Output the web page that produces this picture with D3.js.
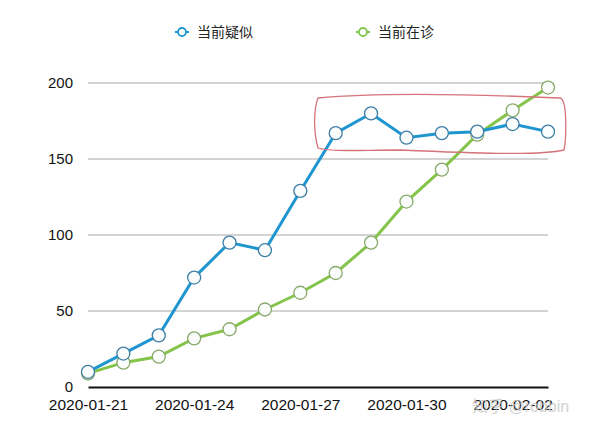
<!DOCTYPE html>
<html>
<head>
<meta charset="utf-8">
<script src="https://cdn.jsdelivr.net/npm/d3@7"></script>
<style>
  body { margin:0; background:#fff; }
  svg text { font-family: "Liberation Sans", Arial, "Noto Sans CJK SC", sans-serif; }
</style>
</head>
<body>
<div id="chart"></div>
<script>
var dates = ["2020-01-21","2020-01-22","2020-01-23","2020-01-24","2020-01-25","2020-01-26","2020-01-27",
             "2020-01-28","2020-01-29","2020-01-30","2020-01-31","2020-02-01","2020-02-02","2020-02-03"];
var suspected = [10,22,34,72,95,90,129,167,180,164,167,168,173,168];
var inTreatment = [9,16,20,32,38,51,62,75,95,122,143,166,182,197];
var seriesNames = ["当前疑似","当前在诊"];
var xTickLabels = ["2020-01-21","2020-01-24","2020-01-27","2020-01-30","2020-02-02"];
var yTicks = [0,50,100,150,200];

function DrawLine(){
    var width = 600, height = 432;
    var margin = {top:83, left:88, right:52, bottom:45};

    var svg = d3.select("#chart").append("svg")
        .attr("width", width)
        .attr("height", height);

    var parse = d3.timeParse("%Y-%m-%d");

    var x = d3.scaleTime()
        .domain([parse(dates[0]), parse(dates[dates.length-1])])
        .range([margin.left, width - margin.right]);

    var y = d3.scaleLinear()
        .domain([0,200])
        .range([height - margin.bottom, margin.top]);

    // grid lines
    svg.append("g")
        .selectAll("line")
        .data(yTicks.filter(function(d){ return d > 0; }))
        .enter().append("line")
        .attr("x1", x.range()[0])
        .attr("x2", x.range()[1])
        .attr("y1", function(d){ return y(d); })
        .attr("y2", function(d){ return y(d); })
        .style("stroke","#c4c4c4")
        .style("stroke-width",1.5);

    // y axis labels
    var yAxis = d3.axisLeft(y).tickValues(yTicks).tickSize(0).tickPadding(15);
    svg.append("g")
        .attr("class","y axis")
        .attr("transform","translate("+margin.left+",0)")
        .call(yAxis)
        .call(function(g){ g.select(".domain").remove(); })
        .selectAll("text")
        .style("font-size","15px")
        .style("fill","#111");

    // x axis
    var xAxis = d3.axisBottom(x)
        .tickValues(xTickLabels.map(parse))
        .tickSize(0)
        .tickPadding(12)
        .tickFormat(d3.timeFormat("%Y-%m-%d"));
    svg.append("g")
        .attr("class","x axis")
        .attr("transform","translate(0,"+y(0)+")")
        .call(xAxis)
        .call(function(g){
            g.select(".domain").style("stroke","#111").style("stroke-width",2.2);
        })
        .selectAll("text")
        .style("font-size","15.5px")
        .style("fill","#111");

    var series = [
        {name: seriesNames[1], values: inTreatment, color:"#84c44a", edge:"#88a96a"},
        {name: seriesNames[0], values: suspected, color:"#2096d0", edge:"#3d7fa6"}
    ];

    var line = d3.line()
        .x(function(d,i){ return x(parse(dates[i])); })
        .y(function(d){ return y(d); });

    series.forEach(function(s){
        svg.append("path")
            .datum(s.values)
            .attr("d", line)
            .style("fill","none")
            .style("stroke", s.color)
            .style("stroke-width",3);
        svg.append("g").selectAll("circle")
            .data(s.values)
            .enter().append("circle")
            .attr("cx", function(d,i){ return x(parse(dates[i])); })
            .attr("cy", function(d){ return y(d); })
            .attr("r", 6.5)
            .style("fill","#fbfdfd")
            .style("stroke", s.edge)
            .style("stroke-width",1.3);
    });

    // hand-drawn annotation box
    svg.append("path")
        .attr("d","M318,98 C380,92 470,94 560,98 C568,100 566,140 564,150 C540,156 470,153 400,150 C360,150 330,152 318,148 C313,130 314,108 318,98 Z")
        .style("fill","none")
        .style("stroke","#d4737a")
        .style("stroke-width",1.3);

    // legend
    var legend = [
        {name: seriesNames[0], color:"#2096d0", x:182},
        {name: seriesNames[1], color:"#84c44a", x:363}
    ];
    var lg = svg.append("g");
    legend.forEach(function(l){
        lg.append("line")
            .attr("x1", l.x-7).attr("x2", l.x+7)
            .attr("y1", 32).attr("y2", 32)
            .style("stroke", l.color)
            .style("stroke-width",2);
        lg.append("circle")
            .attr("cx", l.x).attr("cy", 32).attr("r", 4)
            .style("fill","#fff")
            .style("stroke", l.color)
            .style("stroke-width",1.8);
        lg.append("text")
            .attr("x", l.x + 15)
            .attr("y", 37)
            .style("font-size","14px")
            .style("fill","#222")
            .text(l.name);
    });

    // watermark
    svg.append("text")
        .attr("x", 472)
        .attr("y", 412)
        .style("font-size","16px")
        .style("fill","#c8c8c8")
        .style("opacity",0.8)
        .text("知乎 @robbin");
}

DrawLine();
</script>
</body>
</html>
